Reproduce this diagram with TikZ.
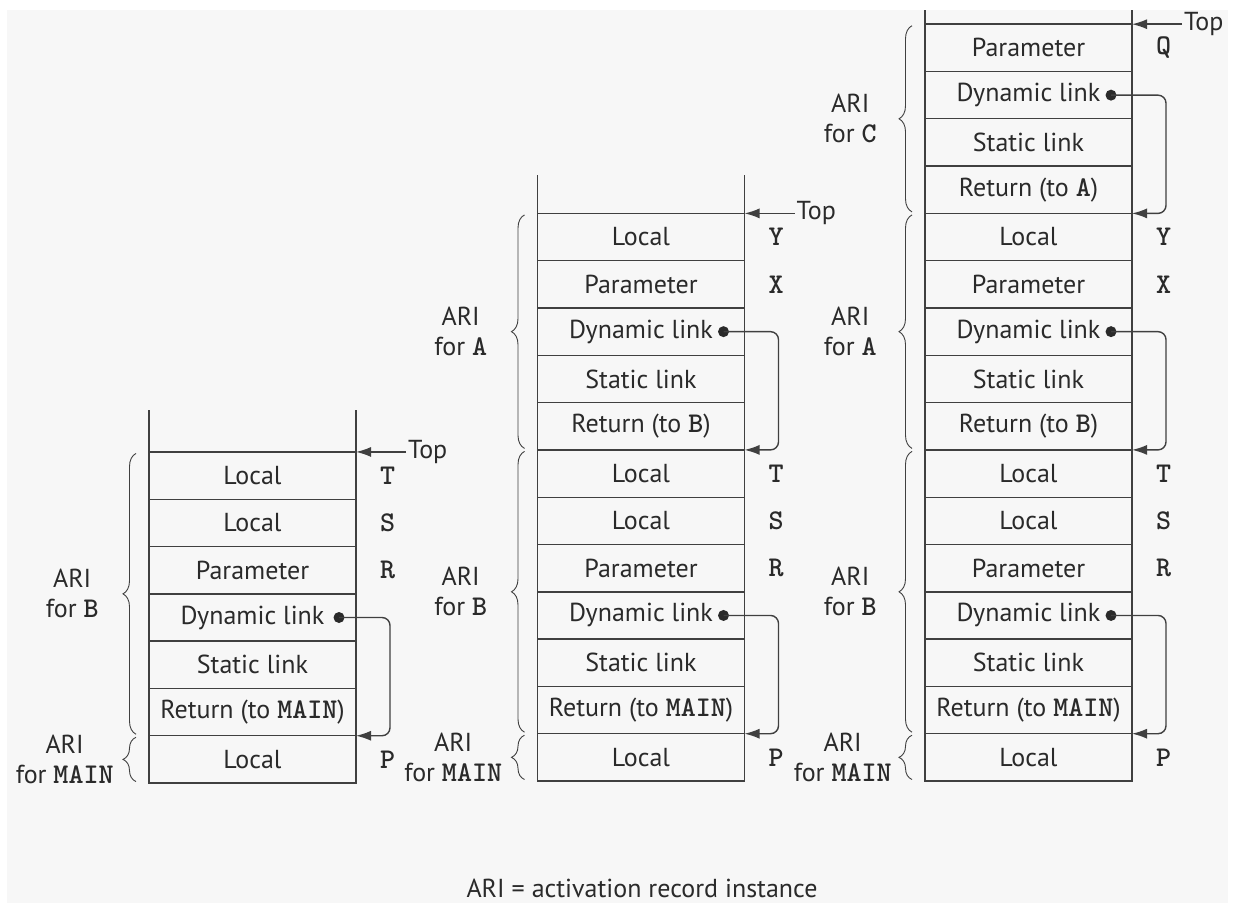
\documentclass[tikz,border=0pt]{standalone}
\usepackage{fontspec}
\setmainfont{PT Sans}
\setmonofont[Scale=1.1]{lmmonolt10-bold.otf}
\usepackage{tikz}
\usetikzlibrary{positioning,arrows.meta,decorations.pathreplacing}

\definecolor{linec}{HTML}{404040}
\definecolor{txtc}{HTML}{2A2A2A}
\definecolor{bgc}{HTML}{F7F7F7}
\newcommand{\cellfnt}{\fontsize{26}{30}\selectfont}

\begin{document}
\begin{tikzpicture}[x=1pt,y=-1pt,
  cell/.style={draw=linec,line width=1.4pt,minimum width=207pt,minimum height=47.3pt,
    inner sep=0pt,outer sep=0pt,text=txtc,font=\cellfnt},
  var/.style={inner sep=0pt,text=txtc,font=\cellfnt\ttfamily},
  toptxt/.style={inner sep=2pt,text=txtc,font=\cellfnt},
  ari/.style={inner sep=0pt,align=center,text=txtc,font=\cellfnt},
  ext/.style={draw=linec,line width=1.4pt},
  ptr/.style={draw=linec,line width=1.4pt,-{Latex[length=15pt,width=10pt]}},
  link/.style={ptr,rounded corners=8pt},
  brc/.style={draw=linec,line width=0.9pt,decorate,decoration={brace,amplitude=13pt}}]

  % Fondo
  \useasboundingbox (0,0) rectangle (1238,915);
  \fill[white] (0,0) rectangle (1238,915);
  \fill[bgc] (7,10) rectangle (1228,903);

  % Pila 1: MAIN llama a B
  \node[cell] (T1) at (252.5,475.6) {Local};
  \node[cell,below=0pt of T1] (S1) {Local};
  \node[cell,below=0pt of S1] (R1) {Parameter};
  \node[cell,below=0pt of R1] (dynB1) {Dynamic link};
  \node[cell,below=0pt of dynB1] (staB1) {Static link};
  \node[cell,below=0pt of staB1] (retB1) {Return (to \texttt{MAIN})};
  \node[cell,below=0pt of retB1] (P1) {Local};
  \draw[ext] (T1.north west) -- ++(0,-42);
  \draw[ext] (T1.north east) -- ++(0,-42);

  \node[var,right=24pt of T1.east] (vT1) {T};
  \node[var,right=24pt of S1.east] (vS1) {S};
  \node[var,right=24pt of R1.east] (vR1) {R};
  \node[var,right=24pt of P1.east] (vP1) {P};

  \node[toptxt,right=50pt of T1.north east] (top1) {Top};
  \draw[ptr] (top1.west) -- (T1.north east);

  \coordinate (dl1) at ([xshift=-17pt]dynB1.east);
  \fill[txtc] (dl1) circle (5.5pt);
  \draw[link] (dl1) -| ([xshift=34pt]retB1.south east) -- (retB1.south east);

  \draw[brc] ([xshift=-13pt,yshift=1.5pt]retB1.south west) -- ([xshift=-13pt,yshift=-1.5pt]T1.north west)
    node[ari,midway,left=37pt] (aB1) {ARI\\for \texttt{B}};
  \draw[brc] ([xshift=-13pt,yshift=1.5pt]P1.south west) -- ([xshift=-13pt,yshift=-1.5pt]P1.north west)
    node[ari,midway,left=22pt] (aM1) {ARI\\for \texttt{MAIN}};

  % Pila 2: B llama a A
  \node[cell] (Y2) at (641,237.05) {Local};
  \node[cell,below=0pt of Y2] (X2) {Parameter};
  \node[cell,below=0pt of X2] (dynA2) {Dynamic link};
  \node[cell,below=0pt of dynA2] (staA2) {Static link};
  \node[cell,below=0pt of staA2] (retA2) {Return (to \texttt{B})};
  \node[cell,below=0pt of retA2] (T2) {Local};
  \node[cell,below=0pt of T2] (S2) {Local};
  \node[cell,below=0pt of S2] (R2) {Parameter};
  \node[cell,below=0pt of R2] (dynB2) {Dynamic link};
  \node[cell,below=0pt of dynB2] (staB2) {Static link};
  \node[cell,below=0pt of staB2] (retB2) {Return (to \texttt{MAIN})};
  \node[cell,below=0pt of retB2] (P2) {Local};
  \draw[ext] (Y2.north west) -- ++(0,-38);
  \draw[ext] (Y2.north east) -- ++(0,-38);

  \node[var,right=24pt of Y2.east] (vY2) {Y};
  \node[var,right=24pt of X2.east] (vX2) {X};
  \node[var,right=24pt of T2.east] (vT2) {T};
  \node[var,right=24pt of S2.east] (vS2) {S};
  \node[var,right=24pt of R2.east] (vR2) {R};
  \node[var,right=24pt of P2.east] (vP2) {P};

  \node[toptxt,right=50pt of Y2.north east] (top2) {Top};
  \draw[ptr] (top2.west) -- (Y2.north east);

  \coordinate (dl2a) at ([xshift=-21pt]dynA2.east);
  \coordinate (dl2b) at ([xshift=-21pt]dynB2.east);
  \fill[txtc] (dl2a) circle (5.5pt);
  \fill[txtc] (dl2b) circle (5.5pt);
  \draw[link] (dl2a) -| ([xshift=34pt]retA2.south east) -- (retA2.south east);
  \draw[link] (dl2b) -| ([xshift=34pt]retB2.south east) -- (retB2.south east);

  \draw[brc] ([xshift=-13pt,yshift=1.5pt]retA2.south west) -- ([xshift=-13pt,yshift=-1.5pt]Y2.north west)
    node[ari,midway,left=37pt] (aA2) {ARI\\for \texttt{A}};
  \draw[brc] ([xshift=-13pt,yshift=1.5pt]retB2.south west) -- ([xshift=-13pt,yshift=-1.5pt]T2.north west)
    node[ari,midway,left=37pt] (aB2) {ARI\\for \texttt{B}};
  \draw[brc] ([xshift=-13pt,yshift=1.5pt]P2.south west) -- ([xshift=-13pt,yshift=-1.5pt]P2.north west)
    node[ari,midway,left=22pt] (aM2) {ARI\\for \texttt{MAIN}};

  % Pila 3: A llama a C
  \node[cell] (Q3) at (1028.5,47.85) {Parameter};
  \node[cell,below=0pt of Q3] (dynC3) {Dynamic link};
  \node[cell,below=0pt of dynC3] (staC3) {Static link};
  \node[cell,below=0pt of staC3] (retC3) {Return (to \texttt{A})};
  \node[cell,below=0pt of retC3] (Y3) {Local};
  \node[cell,below=0pt of Y3] (X3) {Parameter};
  \node[cell,below=0pt of X3] (dynA3) {Dynamic link};
  \node[cell,below=0pt of dynA3] (staA3) {Static link};
  \node[cell,below=0pt of staA3] (retA3) {Return (to \texttt{B})};
  \node[cell,below=0pt of retA3] (T3) {Local};
  \node[cell,below=0pt of T3] (S3) {Local};
  \node[cell,below=0pt of S3] (R3) {Parameter};
  \node[cell,below=0pt of R3] (dynB3) {Dynamic link};
  \node[cell,below=0pt of dynB3] (staB3) {Static link};
  \node[cell,below=0pt of staB3] (retB3) {Return (to \texttt{MAIN})};
  \node[cell,below=0pt of retB3] (P3) {Local};
  \draw[ext] (Q3.north west) -- ++(0,-14);
  \draw[ext] (Q3.north east) -- ++(0,-14);

  \node[var,right=24pt of Q3.east] (vQ3) {Q};
  \node[var,right=24pt of Y3.east] (vY3) {Y};
  \node[var,right=24pt of X3.east] (vX3) {X};
  \node[var,right=24pt of T3.east] (vT3) {T};
  \node[var,right=24pt of S3.east] (vS3) {S};
  \node[var,right=24pt of R3.east] (vR3) {R};
  \node[var,right=24pt of P3.east] (vP3) {P};

  \node[toptxt,right=50pt of Q3.north east] (top3) {Top};
  \draw[ptr] (top3.west) -- (Q3.north east);

  \coordinate (dl3c) at ([xshift=-21pt]dynC3.east);
  \coordinate (dl3a) at ([xshift=-21pt]dynA3.east);
  \coordinate (dl3b) at ([xshift=-21pt]dynB3.east);
  \fill[txtc] (dl3c) circle (5.5pt);
  \fill[txtc] (dl3a) circle (5.5pt);
  \fill[txtc] (dl3b) circle (5.5pt);
  \draw[link] (dl3c) -| ([xshift=34pt]retC3.south east) -- (retC3.south east);
  \draw[link] (dl3a) -| ([xshift=34pt]retA3.south east) -- (retA3.south east);
  \draw[link] (dl3b) -| ([xshift=34pt]retB3.south east) -- (retB3.south east);

  \draw[brc] ([xshift=-13pt,yshift=1.5pt]retC3.south west) -- ([xshift=-13pt,yshift=-1.5pt]Q3.north west)
    node[ari,midway,left=35pt] (aC3) {ARI\\for \texttt{C}};
  \draw[brc] ([xshift=-13pt,yshift=1.5pt]retA3.south west) -- ([xshift=-13pt,yshift=-1.5pt]Y3.north west)
    node[ari,midway,left=35pt] (aA3) {ARI\\for \texttt{A}};
  \draw[brc] ([xshift=-13pt,yshift=1.5pt]retB3.south west) -- ([xshift=-13pt,yshift=-1.5pt]T3.north west)
    node[ari,midway,left=35pt] (aB3) {ARI\\for \texttt{B}};
  \draw[brc] ([xshift=-13pt,yshift=1.5pt]P3.south west) -- ([xshift=-13pt,yshift=-1.5pt]P3.north west)
    node[ari,midway,left=20pt] (aM3) {ARI\\for \texttt{MAIN}};

  % Leyenda
  \node[toptxt] (legend) at (642,888) {ARI = activation record instance};
\end{tikzpicture}
\end{document}
